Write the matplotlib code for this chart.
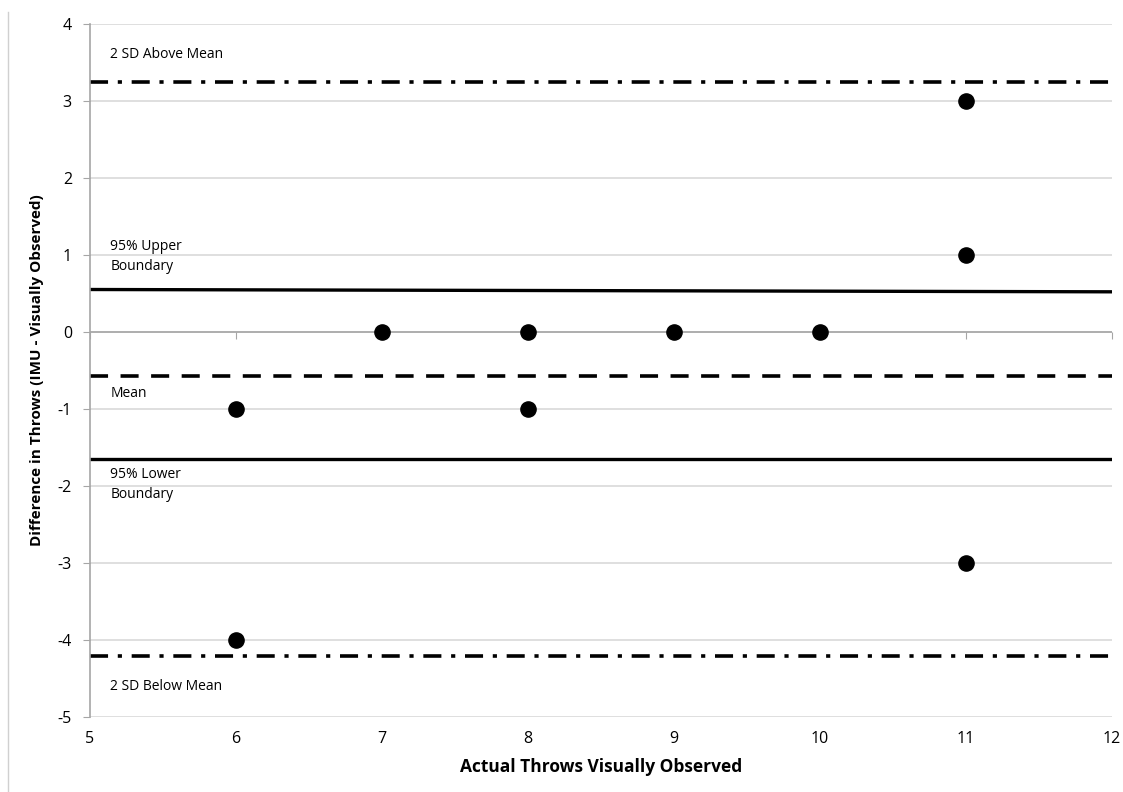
import matplotlib.pyplot as plt
from matplotlib.lines import Line2D

plt.rcParams['font.family'] = ['Open Sans', 'DejaVu Sans']
plt.rcParams['lines.scale_dashes'] = False
plt.rcParams['axes.unicode_minus'] = False

# Data
actual = [6, 6, 7, 8, 8, 9, 10, 11, 11, 11]
diff = [-1, -4, 0, 0, -1, 0, 0, 3, 1, -3]

sd_above = 3.25
upper_left, upper_right = 0.55, 0.52
mean_val = -0.57
lower_val = -1.65
sd_below = -4.21

xticks = [5, 6, 7, 8, 9, 10, 11, 12]
yticks = [-5, -4, -3, -2, -1, 0, 1, 2, 3, 4]

fig = plt.figure(figsize=(11.23, 7.92), dpi=100)
ax = fig.add_axes([0.0801, 0.0947, 0.9099, 0.8753])
ax.set_xlim(5, 12)
ax.set_ylim(-5, 4)

# grid
for y in yticks:
    ax.axhline(y, color='#d9d9d9', lw=1.2, zorder=0)
ax.axhline(0, color='#a6a6a6', lw=1.2, zorder=1)

# reference lines
ax.plot([5, 12], [sd_above, sd_above], color='black', lw=2.6,
        linestyle=(0, (13, 7, 3, 7)), zorder=2)
ax.plot([5, 12], [upper_left, upper_right], color='black', lw=2.4, zorder=2)
ax.plot([5, 12], [mean_val, mean_val], color='black', lw=2.6,
        linestyle=(0, (13, 9)), zorder=2)
ax.plot([5, 12], [lower_val, lower_val], color='black', lw=2.4, zorder=2)
ax.plot([5, 12], [sd_below, sd_below], color='black', lw=2.6,
        linestyle=(0, (13, 7, 3, 7)), zorder=2)

ax.scatter(actual, diff, s=120, color='black', zorder=3)

# labels on the lines
fs = 10
ax.text(5.14, 3.6, '2 SD Above Mean', fontsize=fs, va='center', ha='left')
ax.text(5.14, 0.98, '95% Upper\nBoundary', fontsize=fs, va='center', ha='left', linespacing=1.5)
ax.text(5.14, -0.8, 'Mean', fontsize=fs, va='center', ha='left')
ax.text(5.14, -1.98, '95% Lower\nBoundary', fontsize=fs, va='center', ha='left', linespacing=1.5)
ax.text(5.14, -4.6, '2 SD Below Mean', fontsize=fs, va='center', ha='left')

# spines
for s in ['top', 'right', 'bottom']:
    ax.spines[s].set_visible(False)
ax.spines['left'].set_color('#a6a6a6')
ax.spines['left'].set_linewidth(1.2)

ax.set_yticks(yticks)
ax.set_xticks(xticks)
ax.tick_params(axis='y', length=5, color='#a6a6a6', labelsize=11.5, pad=8)
ax.tick_params(axis='x', length=0, labelsize=11.5, pad=10)

# ticks on the zero line
sec = ax.secondary_xaxis(5 / 9)
sec.xaxis.set_ticks_position('bottom')
sec.set_xticks(xticks)
sec.set_xticklabels([])
sec.tick_params(length=5, color='#a6a6a6', direction='out',
                labelbottom=False, labeltop=False)
sec.spines['bottom'].set_visible(False)
sec.spines['top'].set_visible(False)

ax.set_xlabel('Actual Throws Visually Observed', fontsize=12.5, fontweight='bold', labelpad=8)
ax.set_ylabel('Difference in Throws (IMU - Visually Observed)', fontsize=11, fontweight='bold', labelpad=10)

# left border line of the picture
fig.add_artist(Line2D([0.007, 0.007], [0.0, 0.985], color='#d0d0d0', lw=1))

fig.savefig('out.png', dpi=100)
